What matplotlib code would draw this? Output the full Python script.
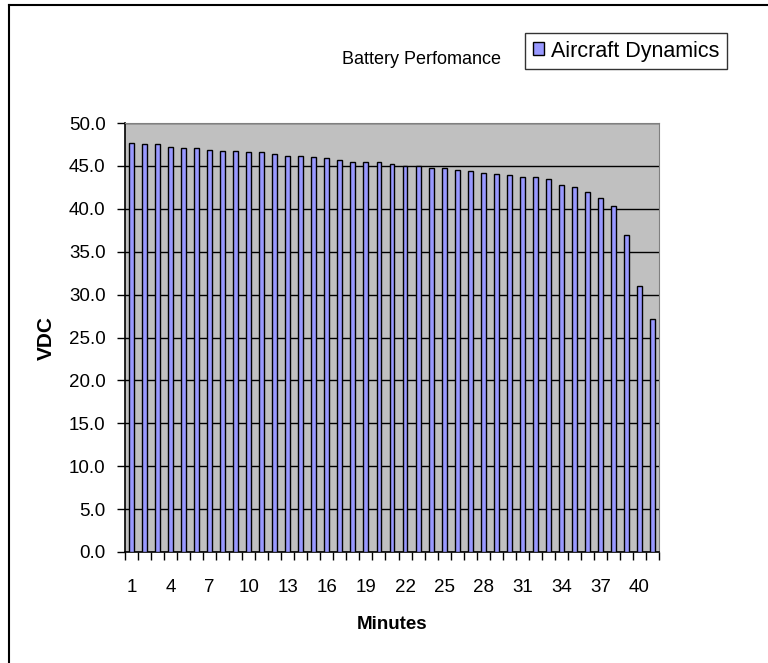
import numpy as np
import matplotlib.pyplot as plt
from matplotlib.patches import Patch
from matplotlib.lines import Line2D

# Battery Perfomance - voltaje por minuto
minutos = list(range(1, 42))
vdc = [47.7, 47.6, 47.6, 47.2, 47.1, 47.1, 46.9, 46.7, 46.7, 46.6,
       46.6, 46.4, 46.2, 46.2, 46.0, 45.9, 45.7, 45.5, 45.5, 45.4,
       45.2, 45.0, 45.0, 44.8, 44.7, 44.5, 44.4, 44.2, 44.0, 43.9,
       43.7, 43.7, 43.5, 42.8, 42.5, 42.0, 41.3, 40.3, 37.0, 31.0,
       27.2]
etiquetas_x = [str(m) for m in minutos[::3]]
serie = 'Aircraft Dynamics'
titulo = 'Battery Perfomance'

plt.rcParams['font.family'] = ['Liberation Sans', 'DejaVu Sans']

fig = plt.figure(figsize=(7.68, 6.63), dpi=100)
ax = fig.add_axes([125 / 768, 111 / 663, 534 / 768, 429 / 663])
ax.set_facecolor('#C0C0C0')

x = np.arange(len(minutos))
ax.bar(x, vdc, width=0.38, color='#9999FF', edgecolor='black', linewidth=1, zorder=3)

ax.set_xlim(-0.5, len(minutos) - 0.5)
ax.set_ylim(0, 50)
ax.set_yticks(np.arange(0, 50.1, 5))
ax.set_yticklabels([f'{v:.1f}' for v in np.arange(0, 50.1, 5)], fontsize=13.5)
ax.yaxis.grid(True, color='black', linewidth=1, zorder=1)
ax.set_axisbelow(True)

ax.set_xticks(x[::3])
ax.set_xticklabels(etiquetas_x, fontsize=13.5)
ax.set_xticks(np.arange(-0.5, len(minutos)), minor=True)
ax.tick_params(axis='x', which='major', length=0, pad=19.5)
ax.tick_params(axis='x', which='minor', length=6, direction='out', width=1)
ax.tick_params(axis='y', length=6, direction='out', width=1, pad=8)

for lado in ['top', 'right']:
    ax.spines[lado].set_color('#808080')
for lado in ['left', 'bottom']:
    ax.spines[lado].set_color('black')
    ax.spines[lado].set_linewidth(1.2)

ax.set_xlabel('Minutes', fontsize=13.5, fontweight='bold', labelpad=14)
ax.set_ylabel('VDC', fontsize=15, fontweight='bold', labelpad=9)

fig.text(422 / 768, 1 - 60 / 663, titulo, fontsize=13, ha='center', va='center')

fig.legend(handles=[Patch(facecolor='#9999FF', edgecolor='black', label=serie)],
           loc='upper left', bbox_to_anchor=(525 / 768, 1 - 33 / 663),
           fontsize=15.5, frameon=True, fancybox=False, edgecolor='black',
           handlelength=0.55, handleheight=0.55, handletextpad=0.3,
           borderpad=0.35, borderaxespad=0)

# borde exterior del area del grafico
fig.add_artist(Line2D([9 / 768, 9 / 768], [0, 1 - 5 / 663], color='black', linewidth=1.5))
fig.add_artist(Line2D([9 / 768, 1], [1 - 5 / 663, 1 - 5 / 663], color='black', linewidth=1.5))

plt.savefig('out.png', dpi=100)
